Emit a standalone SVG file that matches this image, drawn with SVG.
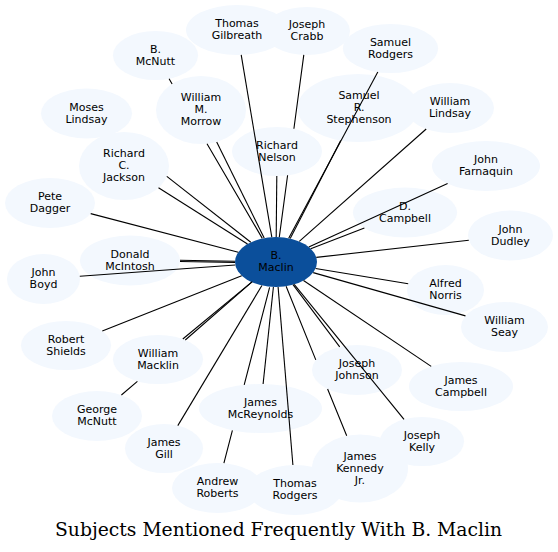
<svg xmlns="http://www.w3.org/2000/svg" width="558" height="552" viewBox="0 0 558 552">
<style>
.n ellipse{fill:#f3f8fe;stroke:none}
.c ellipse{fill:#0b4f9b;stroke:none}
text{font-family:"DejaVu Sans","Liberation Sans",sans-serif;font-size:11px;fill:#000;text-anchor:middle}
.e path{stroke:#000;stroke-width:1.1;fill:none}
.title{font-family:"DejaVu Serif","Liberation Serif",serif;font-size:18px}
</style>
<rect width="558" height="552" fill="#fff"/>
<g id="nodes">
<g id="n1" class="n"><ellipse cx="237" cy="30" rx="51" ry="25"/><text x="237" y="27">Thomas</text><text x="237" y="39">Gilbreath</text></g>
<g id="n2" class="n"><ellipse cx="307" cy="31" rx="43" ry="24"/><text x="307" y="28">Joseph</text><text x="307" y="40">Crabb</text></g>
<g id="n3" class="n"><ellipse cx="155.5" cy="55.5" rx="42.5" ry="24.5"/><text x="155.5" y="52.5">B.</text><text x="155.5" y="64.5">McNutt</text></g>
<g id="n4" class="n"><ellipse cx="390.5" cy="48.5" rx="47.5" ry="24.5"/><text x="390.5" y="45.5">Samuel</text><text x="390.5" y="57.5">Rodgers</text></g>
<g id="n5" class="n"><ellipse cx="86.5" cy="113.5" rx="45.5" ry="25"/><text x="86.5" y="110.5">Moses</text><text x="86.5" y="122.5">Lindsay</text></g>
<g id="n6" class="n"><ellipse cx="201" cy="110" rx="45" ry="34"/><text x="201" y="101">William</text><text x="201" y="113">M.</text><text x="201" y="125">Morrow</text></g>
<g id="n7" class="n"><ellipse cx="358" cy="108" rx="60.5" ry="34"/><text x="359" y="99">Samuel</text><text x="359" y="111">R.</text><text x="359" y="123">Stephenson</text></g>
<g id="n8" class="n"><ellipse cx="450" cy="108" rx="44" ry="25"/><text x="450" y="105">William</text><text x="450" y="117">Lindsay</text></g>
<g id="n9" class="n"><ellipse cx="277" cy="151.5" rx="45" ry="24.5"/><text x="277" y="148.5">Richard</text><text x="277" y="160.5">Nelson</text></g>
<g id="n10" class="n"><ellipse cx="124" cy="166" rx="45" ry="34"/><text x="124" y="157">Richard</text><text x="124" y="169">C.</text><text x="124" y="181">Jackson</text></g>
<g id="n11" class="n"><ellipse cx="486" cy="166" rx="54" ry="25"/><text x="486" y="163">John</text><text x="486" y="175">Farnaquin</text></g>
<g id="n12" class="n"><ellipse cx="50" cy="203" rx="45" ry="25"/><text x="50" y="200">Pete</text><text x="50" y="212">Dagger</text></g>
<g id="n13" class="n"><ellipse cx="405" cy="212.5" rx="52" ry="25"/><text x="405" y="209.5">D.</text><text x="405" y="221.5">Campbell</text></g>
<g id="n14" class="n"><ellipse cx="510.5" cy="235.5" rx="42.5" ry="25"/><text x="510.5" y="232.5">John</text><text x="510.5" y="244.5">Dudley</text></g>
<g id="n15" class="n"><ellipse cx="130" cy="260.5" rx="50" ry="25"/><text x="130" y="257.5">Donald</text><text x="130" y="269.5">McIntosh</text></g>
<g id="n16" class="n"><ellipse cx="43.5" cy="279" rx="36.5" ry="25"/><text x="43.5" y="276">John</text><text x="43.5" y="288">Boyd</text></g>
<g id="n17" class="n"><ellipse cx="445.5" cy="290" rx="38.5" ry="25"/><text x="445.5" y="287">Alfred</text><text x="445.5" y="299">Norris</text></g>
<g id="n18" class="n"><ellipse cx="504.5" cy="327" rx="43.5" ry="25"/><text x="504.5" y="324">William</text><text x="504.5" y="336">Seay</text></g>
<g id="n19" class="n"><ellipse cx="66" cy="345.5" rx="45" ry="24.5"/><text x="66" y="342.5">Robert</text><text x="66" y="354.5">Shields</text></g>
<g id="n20" class="n"><ellipse cx="158" cy="359.5" rx="45" ry="24.5"/><text x="158" y="356.5">William</text><text x="158" y="368.5">Macklin</text></g>
<g id="n21" class="n"><ellipse cx="357" cy="370" rx="45" ry="25"/><text x="357" y="367">Joseph</text><text x="357" y="379">Johnson</text></g>
<g id="n22" class="n"><ellipse cx="461" cy="386.5" rx="52" ry="24.5"/><text x="461" y="383.5">James</text><text x="461" y="395.5">Campbell</text></g>
<g id="n23" class="n"><ellipse cx="97" cy="416" rx="45" ry="25"/><text x="97" y="413">George</text><text x="97" y="425">McNutt</text></g>
<g id="n24" class="n"><ellipse cx="260.5" cy="408.5" rx="61.5" ry="24.5"/><text x="260.5" y="405.5">James</text><text x="260.5" y="417.5">McReynolds</text></g>
<g id="n25" class="n"><ellipse cx="422" cy="441.5" rx="42" ry="24.5"/><text x="422" y="438.5">Joseph</text><text x="422" y="450.5">Kelly</text></g>
<g id="n26" class="n"><ellipse cx="164" cy="448.5" rx="39" ry="24.5"/><text x="164" y="445.5">James</text><text x="164" y="457.5">Gill</text></g>
<g id="n27" class="n"><ellipse cx="360" cy="468.5" rx="48" ry="34"/><text x="360" y="459.5">James</text><text x="360" y="471.5">Kennedy</text><text x="360" y="483.5">Jr.</text></g>
<g id="n28" class="n"><ellipse cx="217.5" cy="488" rx="45.5" ry="25"/><text x="217.5" y="485">Andrew</text><text x="217.5" y="497">Roberts</text></g>
<g id="n29" class="n"><ellipse cx="295" cy="490" rx="47" ry="25"/><text x="295" y="487">Thomas</text><text x="295" y="499">Rodgers</text></g>
<g id="n0" class="c"><ellipse cx="276" cy="262" rx="41" ry="25"/><text x="276" y="259">B.</text><text x="276" y="271">Maclin</text></g>
</g>
<g id="connectors" class="e">
<path d="M241.2,54.9 L271.8,237.1"/>
<path d="M303.8,54.9 L293.9,128.8 M287.6,175.3 L279.3,237.1"/>
<path d="M169.1,78.7 L172.1,83.9 M207,143.7 L262.3,238.4"/>
<path d="M216.7,141.9 L264.2,238.1"/>
<path d="M377.8,72.1 L288.7,238.2"/>
<path d="M340.7,140.6 L290.2,238.4"/>
<path d="M426.2,129 L299.3,241.4"/>
<path d="M276.8,176 L276.2,237"/>
<path d="M158.5,187.8 L247.5,244"/>
<path d="M166.8,176.4 L250.8,242.3"/>
<path d="M90.7,213.6 L238.3,252.2"/>
<path d="M364.4,228.1 L310.7,248.7"/>
<path d="M447.6,183.6 L308.8,247"/>
<path d="M468.8,240.2 L316.3,257.4"/>
<path d="M180,260.3 L235,261.3 M180,261.5 L235,262.5"/>
<path d="M79.8,276.3 L235.3,265"/>
<path d="M408.2,283.8 L315.6,268.5"/>
<path d="M465.5,315.9 L313.2,272.6"/>
<path d="M102.3,331.1 L241.7,275.7"/>
<path d="M182.8,339 L251.7,282.1"/>
<path d="M121.4,395 L137.4,381.3 M185.3,340 L252.3,281.6"/>
<path d="M177.8,425.6 L261.9,285.5"/>
<path d="M263.1,384 L273.4,287"/>
<path d="M223.9,463.2 L232.4,430.3 M244.2,384.9 L269.6,287.3"/>
<path d="M292.9,465 L278.1,287"/>
<path d="M346.7,435.8 L327.6,389 M315.8,359.9 L286.1,286.3"/>
<path d="M339.7,346.9 L293,284.7"/>
<path d="M404,419.4 L294.2,284.4"/>
<path d="M431.2,366.4 L303.5,280.5"/>
</g>
<text class="title" x="278.5" y="536" textLength="447" lengthAdjust="spacingAndGlyphs">Subjects Mentioned Frequently With B. Maclin</text>
</svg>
